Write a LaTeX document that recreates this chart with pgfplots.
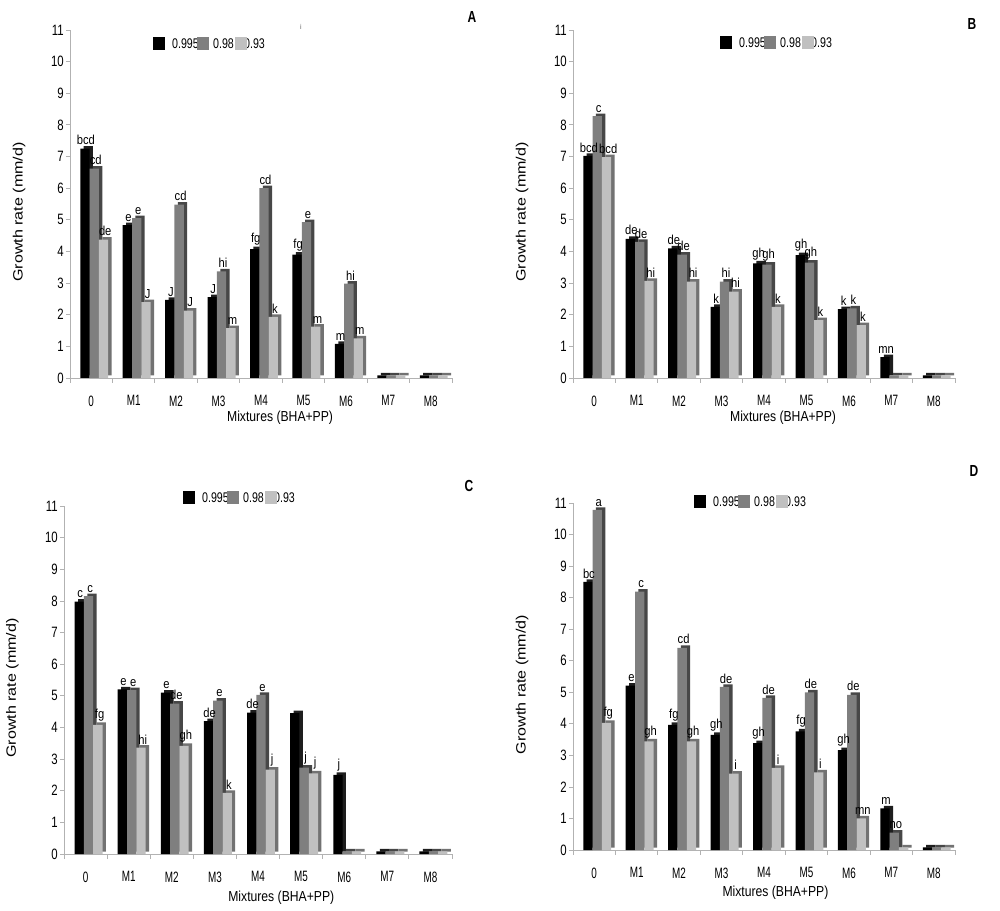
\documentclass[border=0pt]{standalone}
\usepackage{fontspec}
\setmainfont{Liberation Sans}
\newfontfamily\ytfont{Liberation Sans}[FakeStretch=0.76]
\newfontfamily\xtfont{Liberation Sans}[FakeStretch=0.66]
\newfontfamily\labfont{Liberation Sans}[FakeStretch=0.86]
\newfontfamily\legfont{Liberation Sans}[FakeStretch=0.76]
\newfontfamily\xlfont{Liberation Sans}[FakeStretch=0.84]
\newfontfamily\ylfont{Liberation Sans}[FakeStretch=1.19]
\newfontfamily\pfont{Liberation Sans}[FakeStretch=0.75]
\usepackage{pgfplots}
\usepackage{pgfplotstable}
\pgfplotsset{compat=1.18}
\newcommand\ytf{\ytfont\fontsize{15}{17}\selectfont}
\newcommand\xtf{\xtfont\fontsize{15}{17}\selectfont}
\newcommand\labf{\labfont\fontsize{13}{15}\selectfont}
\newcommand\legf{\legfont\fontsize{14}{16}\selectfont}
\newcommand\xlf{\xlfont\fontsize{14.5}{16}\selectfont}
\newcommand\ylf{\ylfont\fontsize{13.5}{15}\selectfont}
\newcommand\pf{\pfont\bfseries\fontsize{16}{18}\selectfont}
\definecolor{cA}{HTML}{000000}
\definecolor{cB}{HTML}{7F7F7F}
\definecolor{cC}{HTML}{C0C0C0}
\definecolor{bA}{HTML}{1E1E1E}
\definecolor{bB}{HTML}{474747}
\definecolor{bC}{HTML}{727272}

\pgfplotstableread{
x a b c la lb lc
0 7.25 6.62 4.37 bcd cd de
1 4.83 5.05 2.40 e e J
2 2.47 5.48 2.13 J cd J
3 2.56 3.37 1.58 J hi m
4 4.07 6.00 1.93 fg cd k
5 3.90 4.93 1.62 fg e m
6 1.08 2.98 1.25 m hi m
7 0.08 0.08 0.08 {} {} {}
8 0.08 0.08 0.08 {} {} {}
}\tabA
\pgfplotstableread{
x a b c la lb lc
0 7.02 8.28 6.98 bcd c bcd
1 4.40 4.30 3.07 de de hi
2 4.10 3.90 3.05 de de hi
3 2.25 3.05 2.73 k hi hi
4 3.62 3.58 2.25 gh gh k
5 3.88 3.65 1.83 gh gh k
6 2.18 2.20 1.67 k k k
7 0.66 0.08 0.08 mn {} {}
8 0.08 0.08 0.08 {} {} {}
}\tabB
\pgfplotstableread{
x a b c la lb lc
0 7.98 8.15 4.08 c c fg
1 5.20 5.18 3.36 e e hi
2 5.10 4.75 3.42 e de gh
3 4.20 4.85 1.93 de e k
4 4.47 5.03 2.67 de e j
5 4.45 2.73 2.55 {} j j
6 2.50 0.08 0.08 j {} {}
7 0.08 0.08 0.08 {} {} {}
8 0.08 0.08 0.08 {} {} {}
}\tabC
\pgfplotstableread{
x a b c la lb lc
0 8.50 10.78 4.03 bc a fg
1 5.21 8.19 3.44 e c gh
2 3.97 6.41 3.44 fg cd gh
3 3.65 5.17 2.42 gh de i
4 3.39 4.82 2.60 gh de i
5 3.76 5.00 2.46 fg de i
6 3.17 4.92 1.00 gh de mn
7 1.32 0.55 0.08 m no {}
8 0.08 0.08 0.08 {} {} {}
}\tabD

\pgfplotsset{
  panel/.style={
    scale only axis,
    ymin=0, ymax=11, xmin=-0.5, xmax=8.5,
    ytick={0,1,...,11},
    xtick={0,1,...,8},
    xticklabels={0,M1,M2,M3,M4,M5,M6,M7,M8},
    minor xtick={-0.5,0.5,...,8.5},
    axis x line*=bottom, axis y line*=left,
    axis line style={draw=black!30, line width=0.8pt},
    tick style={draw=black!30, line width=0.8pt},
    major x tick style={draw=none},
    tick align=outside,
    major tick length=4pt, minor tick length=5pt,
    clip=false,
    /pgf/number format/assume math mode=true,
    yticklabel style={font=\ytf, inner sep=2pt},
    xticklabel style={font=\xtf, yshift=-10pt},
    xlabel={Mixtures (BHA+PP)},
    ylabel={Growth rate (mm/d)},
    xlabel style={font=\xlf, at={(axis description cs:0.55,-0.115)}, anchor=center},
    ylabel style={font=\ylf, at={(axis description cs:-0.133,0.477)}, anchor=center},
  },
  fr/.style={ybar, bar width=9.3pt, draw=none},
  bk/.style={ybar, bar width=9.3pt, draw=none, yshift=2.5pt, forget plot},
  lb/.style={draw=none, mark=none, forget plot, nodes near coords, point meta=explicit symbolic,
    every node near coord/.append style={font=\labf, inner sep=0.5pt, anchor=south, text=black, yshift=3pt, xshift=#1}},
}
\newcommand\bars[1]{%
  \addplot[bk, bar shift=-2.9pt, fill=bA] table[x=x,y=a]{#1};
  \addplot[fr, bar shift=-6.3pt, fill=cA] table[x=x,y=a]{#1};
  \addplot[bk, bar shift=6.4pt, fill=bB] table[x=x,y=b]{#1};
  \addplot[fr, bar shift=3.0pt, fill=cB] table[x=x,y=b]{#1};
  \addplot[bk, bar shift=15.7pt, fill=bC] table[x=x,y=c]{#1};
  \addplot[fr, bar shift=12.3pt, fill=cC] table[x=x,y=c]{#1};
  \addplot[lb=-5.3pt] table[x=x,y=a,meta=la]{#1};
  \addplot[lb=4.5pt] table[x=x,y=b,meta=lb]{#1};
  \addplot[lb=14pt] table[x=x,y=c,meta=lc]{#1};
}
\newcommand\leg[2]{%
  \begin{scope}[shift={(#1pt,#2pt)}]
    \node[font=\legf, anchor=base west, inner sep=0] at (19pt,-5pt) {0.995};
    \node[font=\legf, anchor=base west, inner sep=0] at (60pt,-5pt) {0.98};
    \node[font=\legf, anchor=base west, inner sep=0] at (91pt,-5pt) {0.93};
    \fill[cA] (0pt,-6.5pt) rectangle (12pt,6.5pt);
    \fill[cB] (44pt,-6.5pt) rectangle (56pt,6.5pt);
    \fill[cC] (82pt,-6.5pt) rectangle (94pt,6.5pt);
  \end{scope}
}

\begin{document}
\begin{tikzpicture}[x=1pt,y=1pt]
\path[use as bounding box] (0,0) rectangle (1000,910);

\begin{axis}[panel, at={(70pt,532pt)}, anchor=south west, width=382pt, height=348pt]
\bars{\tabA}
\end{axis}
\begin{axis}[panel, at={(573pt,532pt)}, anchor=south west, width=382pt, height=348pt]
\bars{\tabB}
\end{axis}
\begin{axis}[panel, at={(64pt,56pt)}, anchor=south west, width=388pt, height=348pt,
  xlabel style={at={(axis description cs:0.56,-0.127)}}]
\bars{\tabC}
\end{axis}
\begin{axis}[panel, at={(573pt,60pt)}, anchor=south west, width=382pt, height=347pt,
  xlabel style={at={(axis description cs:0.53,-0.124)}}]
\bars{\tabD}
\end{axis}

\leg{153}{866.5}
\leg{720}{867}
\leg{183}{412}
\leg{694}{408}

\node[font=\pf] at (472,893) {A};
\node[font=\pf] at (972,886) {B};
\node[font=\pf] at (469,424) {C};
\node[font=\pf] at (974,439) {D};
\node[font=\fontsize{7}{8}\selectfont, text=black!60] at (301,883) {i};
\end{tikzpicture}
\end{document}
